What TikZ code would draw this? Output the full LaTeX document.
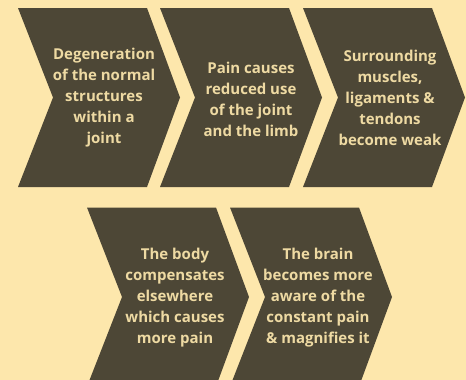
\documentclass[tikz,border=0pt]{standalone}
\usepackage{fontspec}
\setmainfont{Open Sans}
\definecolor{bgc}{HTML}{FDE7AC}
\definecolor{chevc}{HTML}{4D4736}
\definecolor{txtc}{HTML}{EEDAA3}
\tikzset{
  chevfill/.style={fill=chevc},
  lbl/.style={text=txtc, align=center, inner sep=0pt,
    font=\bfseries\fontsize{15}{21}\selectfont}
}
\newcommand\mychev[2]{%
  \fill[chevfill] (#1,#2-89.5) -- ++(129,0) -- ++(33,89.5) -- ++(-33,89.5)
    -- ++(-129,0) -- ++(35,-89.5) -- cycle;}
\begin{document}
\begin{tikzpicture}[x=1pt,y=-1pt]
\fill[bgc] (0,0) rectangle (466,380);
\useasboundingbox (0,0) rectangle (466,380);
\begin{scope}
\clip (0,0) rectangle (466,380);
\mychev{18}{97.5}
\mychev{160}{97.5}
\mychev{303}{97.5}
\mychev{87}{297}
\mychev{230}{297}
\end{scope}
\node[lbl] (t1) at (104,98) {Degeneration\\of the normal\\structures\\within a\\joint};
\node[lbl] (t2) at (251,99) {Pain causes\\reduced use\\of the joint\\and the limb};
\node[lbl] (t3) at (390,98) {Surrounding\\muscles,\\ligaments \&\\tendons\\become weak};
\node[lbl] (t4) at (175,298) {The body\\compensates\\elsewhere\\which causes\\more pain};
\node[lbl] (t5) at (318,298) {The brain\\becomes more\\aware of the\\constant pain\\\& magnifies it};
\end{tikzpicture}
\end{document}
